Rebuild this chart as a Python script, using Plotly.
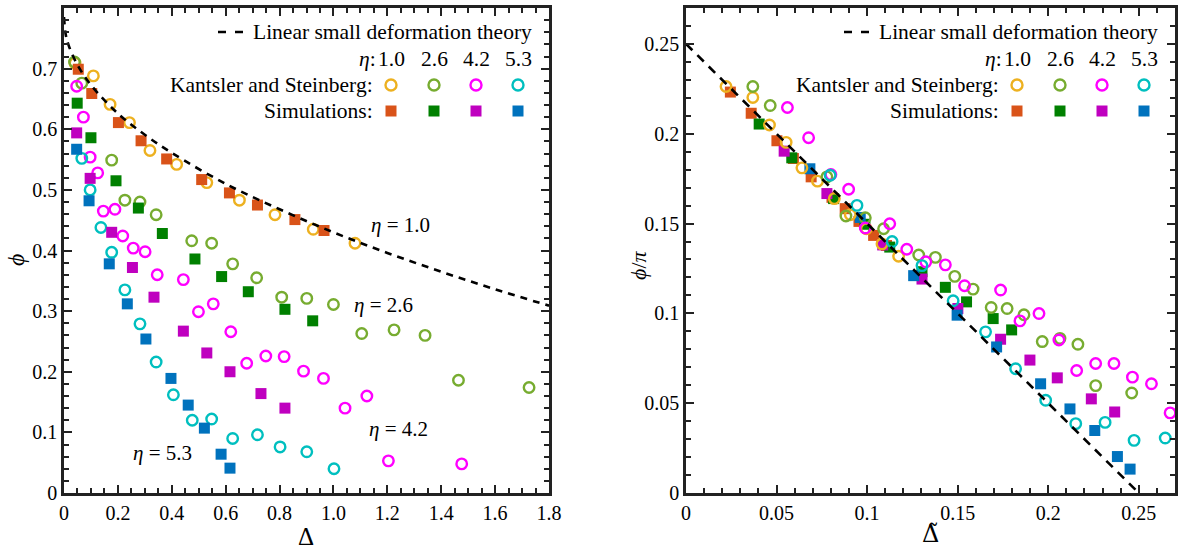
import plotly.graph_objects as go

# ---------------- data: inclination angle phi versus excess area Delta ----------------
eta_labels = ["1.0", "2.6", "4.2", "5.3"]

# Kantsler & Steinberg experiments (left panel: Delta, phi)
ks_delta_10 = [0.041, 0.109, 0.171, 0.243, 0.319, 0.418, 0.530, 0.651, 0.783, 0.925, 1.080]
ks_phi_10 = [0.709, 0.688, 0.641, 0.611, 0.565, 0.542, 0.512, 0.483, 0.459, 0.435, 0.412]
ks_delta_26 = [0.039, 0.066, 0.177, 0.226, 0.282, 0.342, 0.474, 0.548, 0.626, 0.715, 0.808,
               0.901, 1.000, 1.105, 1.225, 1.340, 1.464, 1.726]
ks_phi_26 = [0.711, 0.676, 0.549, 0.483, 0.480, 0.459, 0.416, 0.412, 0.378, 0.355, 0.323,
             0.321, 0.311, 0.263, 0.269, 0.260, 0.186, 0.174]
ks_delta_42 = [0.047, 0.072, 0.097, 0.125, 0.146, 0.189, 0.218, 0.257, 0.301, 0.346, 0.443, 0.499,
               0.554, 0.619, 0.678, 0.749, 0.817, 0.889, 0.963, 1.043, 1.124, 1.204, 1.476]
ks_phi_42 = [0.671, 0.620, 0.554, 0.528, 0.465, 0.468, 0.424, 0.404, 0.398, 0.360, 0.352, 0.299,
             0.312, 0.266, 0.214, 0.226, 0.225, 0.201, 0.189, 0.140, 0.160, 0.053, 0.048]
ks_delta_53 = [0.066, 0.097, 0.137, 0.177, 0.226, 0.282, 0.342, 0.406, 0.476, 0.548, 0.626,
               0.718, 0.802, 0.901, 1.002]
ks_phi_53 = [0.552, 0.500, 0.438, 0.397, 0.335, 0.279, 0.216, 0.162, 0.120, 0.122, 0.090,
             0.096, 0.076, 0.068, 0.040]

# Simulations (left panel: Delta, phi)
sim_delta_10 = [0.053, 0.103, 0.202, 0.286, 0.381, 0.511, 0.614, 0.718, 0.857, 0.965]
sim_phi_10 = [0.699, 0.659, 0.611, 0.581, 0.551, 0.517, 0.495, 0.475, 0.451, 0.433]
sim_delta_26 = [0.049, 0.100, 0.193, 0.276, 0.365, 0.486, 0.585, 0.684, 0.820, 0.923]
sim_phi_26 = [0.643, 0.586, 0.515, 0.470, 0.428, 0.386, 0.357, 0.332, 0.303, 0.284]
sim_delta_42 = [0.047, 0.097, 0.177, 0.254, 0.334, 0.443, 0.530, 0.616, 0.731, 0.820]
sim_phi_42 = [0.594, 0.519, 0.430, 0.372, 0.323, 0.267, 0.231, 0.200, 0.164, 0.140]
sim_delta_53 = [0.047, 0.093, 0.168, 0.235, 0.304, 0.397, 0.461, 0.521, 0.583, 0.616]
sim_phi_53 = [0.567, 0.482, 0.378, 0.312, 0.254, 0.189, 0.145, 0.107, 0.064, 0.041]

# Small deformation theory, eta = 1.0 (left panel)
theory_delta = [0, 0.005, 0.01, 0.02, 0.05, 0.1, 0.2, 0.3, 0.4, 0.6, 0.8, 1.0, 1.2, 1.4, 1.6, 1.8]
theory_phi = [0.785, 0.760, 0.749, 0.735, 0.706, 0.673, 0.626, 0.591, 0.561, 0.510, 0.468,
              0.430, 0.396, 0.365, 0.336, 0.309]

# Rescaled coordinates (right panel: Delta tilde, phi/pi)
ks_dt_10 = [0.0221, 0.0369, 0.0461, 0.0553, 0.0640, 0.0726, 0.0819, 0.0907, 0.0996, 0.1082, 0.1174]
ks_pp_10 = [0.2263, 0.2202, 0.2049, 0.1952, 0.1810, 0.1736, 0.1639, 0.1549, 0.1471, 0.1387, 0.1318]
ks_dt_26 = [0.0369, 0.0465, 0.0778, 0.0883, 0.0990, 0.1091, 0.1285, 0.1377, 0.1484, 0.1585,
            0.1685, 0.1773, 0.1866, 0.1967, 0.2065, 0.2164, 0.2262, 0.2461]
ks_pp_26 = [0.2263, 0.2157, 0.1760, 0.1542, 0.1532, 0.1471, 0.1325, 0.1312, 0.1206, 0.1135,
            0.1033, 0.1027, 0.0992, 0.0843, 0.0861, 0.0828, 0.0598, 0.0557]
ks_dt_42 = [0.0560, 0.0677, 0.0800, 0.0898, 0.0990, 0.1125, 0.1219, 0.1324, 0.1432, 0.1538,
            0.1737, 0.1844, 0.1949, 0.2059, 0.2157, 0.2262, 0.2363, 0.2465, 0.2570, 0.2673]
ks_pp_42 = [0.2146, 0.1978, 0.1773, 0.1691, 0.1475, 0.1499, 0.1357, 0.1287, 0.1270, 0.1154,
            0.1130, 0.0958, 0.0999, 0.0852, 0.0682, 0.0721, 0.0721, 0.0645, 0.0608, 0.0446]
ks_dt_53 = [0.0796, 0.0944, 0.1138, 0.1303, 0.1475, 0.1654, 0.1820, 0.1986, 0.2152, 0.2314,
            0.2474, 0.2646]
ks_pp_53 = [0.1769, 0.1601, 0.1400, 0.1266, 0.1070, 0.0897, 0.0692, 0.0516, 0.0386, 0.0393,
            0.0293, 0.0306]

sim_dt_10 = [0.0245, 0.0360, 0.0502, 0.0593, 0.0691, 0.0806, 0.0879, 0.0955, 0.1036, 0.1107]
sim_pp_10 = [0.2232, 0.2114, 0.1961, 0.1862, 0.1760, 0.1646, 0.1583, 0.1512, 0.1434, 0.1378]
sim_dt_26 = [0.0404, 0.0584, 0.0815, 0.0988, 0.1125, 0.1303, 0.1432, 0.1549, 0.1696, 0.1798]
sim_pp_26 = [0.2054, 0.1866, 0.1639, 0.1496, 0.1369, 0.1232, 0.1145, 0.1064, 0.0971, 0.0908]
sim_dt_42 = [0.0542, 0.0778, 0.1086, 0.1303, 0.1501, 0.1737, 0.1899, 0.2050, 0.2238, 0.2367]
sim_pp_42 = [0.1903, 0.1667, 0.1381, 0.1191, 0.1027, 0.0856, 0.0740, 0.0641, 0.0524, 0.0451]
sim_dt_53 = [0.0684, 0.0962, 0.1257, 0.1497, 0.1715, 0.1958, 0.2120, 0.2257, 0.2382, 0.2452]
sim_pp_53 = [0.1805, 0.1534, 0.1210, 0.0990, 0.0813, 0.0608, 0.0468, 0.0348, 0.0203, 0.0133]

theory_dt = [0.0, 0.25]
theory_pp = [0.25, 0.0]

# tick labels
left_xticks = [0, 0.2, 0.4, 0.6, 0.8, 1.0, 1.2, 1.4, 1.6, 1.8]
left_xtext = ["0", "0.2", "0.4", "0.6", "0.8", "1.0", "1.2", "1.4", "1.6", "1.8"]
left_yticks = [0, 0.1, 0.2, 0.3, 0.4, 0.5, 0.6, 0.7, 0.8]
left_ytext = ["0", "0.1", "0.2", "0.3", "0.4", "0.5", "0.6", "0.7", "0.8"]
right_ticks = [0, 0.05, 0.1, 0.15, 0.2, 0.25]
right_text = ["0", "0.05", "0.1", "0.15", "0.2", "0.25"]

# ---------------- styling ----------------
FONT = "Liberation Serif"
KS_COLORS = ["#EDB120", "#77AC30", "#FF00FF", "#00BFBF"]
SIM_COLORS = ["#D95319", "#008000", "#BF00BF", "#0072BD"]

fig = go.Figure()


def add_circles(xs, ys, color, xa, ya):
    fig.add_trace(go.Scatter(
        x=xs, y=ys, mode="markers", xaxis=xa, yaxis=ya, hoverinfo="skip",
        marker=dict(symbol="circle-open", size=10.5, color=color, line=dict(width=2.4, color=color)),
    ))


def add_squares(xs, ys, color, xa, ya):
    fig.add_trace(go.Scatter(
        x=xs, y=ys, mode="markers", xaxis=xa, yaxis=ya, hoverinfo="skip",
        marker=dict(symbol="square", size=11, color=color, line=dict(width=0)),
    ))


left_ks = [(ks_delta_10, ks_phi_10), (ks_delta_26, ks_phi_26), (ks_delta_42, ks_phi_42), (ks_delta_53, ks_phi_53)]
left_sim = [(sim_delta_10, sim_phi_10), (sim_delta_26, sim_phi_26), (sim_delta_42, sim_phi_42), (sim_delta_53, sim_phi_53)]
right_ks = [(ks_dt_10, ks_pp_10), (ks_dt_26, ks_pp_26), (ks_dt_42, ks_pp_42), (ks_dt_53, ks_pp_53)]
right_sim = [(sim_dt_10, sim_pp_10), (sim_dt_26, sim_pp_26), (sim_dt_42, sim_pp_42), (sim_dt_53, sim_pp_53)]

# left panel: circles, then squares, then theory curve
for (xs, ys), c in zip(left_ks, KS_COLORS):
    add_circles(xs, ys, c, "x", "y")
for (xs, ys), c in zip(left_sim, SIM_COLORS):
    add_squares(xs, ys, c, "x", "y")
fig.add_trace(go.Scatter(x=theory_delta, y=theory_phi, mode="lines", xaxis="x", yaxis="y",
                         hoverinfo="skip", line=dict(color="black", width=2.6, dash="7px,6px", shape="spline")))

# right panel: squares, then circles, then theory line
for (xs, ys), c in zip(right_sim, SIM_COLORS):
    add_squares(xs, ys, c, "x2", "y2")
for (xs, ys), c in zip(right_ks, KS_COLORS):
    add_circles(xs, ys, c, "x2", "y2")
fig.add_trace(go.Scatter(x=theory_dt, y=theory_pp, mode="lines", xaxis="x2", yaxis="y2",
                         hoverinfo="skip", line=dict(color="black", width=2.6, dash="9px,7px")))

W, H = 1178, 552
LEFT_X = [64 / W, 549 / W]
RIGHT_X = [686 / W, 1175 / W]
Y_DOM = [1 - 493 / H, 1 - 8 / H]

tickfont = dict(family=FONT, size=20, color="black")


def axis(domain, rng, tickvals, ticktext, minor_dtick, anchor):
    return dict(
        domain=domain, range=rng, anchor=anchor, tickmode="array", tickvals=tickvals, ticktext=ticktext,
        showgrid=False, zeroline=False, showline=True, linecolor="#222222", linewidth=2.6, mirror="allticks",
        ticks="inside", ticklen=8, tickwidth=2, tickcolor="#222222", tickfont=tickfont,
        minor=dict(tickmode="linear", tick0=0, dtick=minor_dtick, ticks="inside", ticklen=5,
                   tickwidth=1.6, tickcolor="#222222", showgrid=False),
        fixedrange=True, automargin=False,
    )


fig.update_layout(
    width=W, height=H, margin=dict(l=0, r=0, t=0, b=0),
    paper_bgcolor="white", plot_bgcolor="white", showlegend=False,
    xaxis=axis(LEFT_X, [0, 1.8], left_xticks, left_xtext, 0.05, "y"),
    yaxis=axis(Y_DOM, [0, 0.8], left_yticks, left_ytext, 0.02, "x"),
    xaxis2=axis(RIGHT_X, [0, 0.27], right_ticks, right_text, 0.01, "y2"),
    yaxis2=axis(Y_DOM, [0, 0.27], right_ticks, right_text, 0.01, "x2"),
)

annotations = []
shapes = []


def paper_text(text, px, py, size, angle=0, family=FONT):
    return dict(text=text, x=px / W, y=1 - py / H, xref="paper", yref="paper", xanchor="center",
                yanchor="middle", showarrow=False, textangle=angle,
                font=dict(family=family, size=size, color="black"))


# axis titles
annotations += [
    paper_text("Δ", 306, 536, 25),
    paper_text("Δ\u0303", 930, 534, 24, family="DejaVu Serif"),
    paper_text("<i>ϕ</i>", 16, 260, 24, -90),
    paper_text("<i>ϕ</i>/<i>π</i>", 638, 265, 22, -90),
]

# eta labels next to the curves in the left panel
label_font = dict(family=FONT, size=21, color="black")
for txt, lx, ly in [("1.0", 1.247, 0.442), ("2.6", 1.184, 0.310), ("4.2", 1.240, 0.106), ("5.3", 0.364, 0.066)]:
    annotations.append(dict(text=f"<i>η</i> = {txt}", x=lx, y=ly, xref="x", yref="y", showarrow=False,
                            xanchor="center", yanchor="middle", font=label_font))

# in-panel legend block, built for both panels
legend_font = dict(family=FONT, size=21.5, color="black")
marker_offsets = [-158, -115, -73, -31]     # px from the right frame
row_dy = [-24, -51, -77, -103]              # px from the top frame
for xr, yr in [("x domain", "y domain"), ("x2 domain", "y2 domain")]:
    annotations.append(dict(text="Linear small deformation theory", x=1, y=1, xref=xr, yref=yr,
                            xanchor="right", yanchor="middle", xshift=-15, yshift=row_dy[0],
                            showarrow=False, font=legend_font))
    shapes.append(dict(type="line", xref=xr, yref=yr, xsizemode="pixel", ysizemode="pixel",
                       xanchor=1, yanchor=1, x0=-331, x1=-304, y0=row_dy[0], y1=row_dy[0],
                       line=dict(color="black", width=2.6, dash="8px,9px")))
    annotations.append(dict(text="<i>η</i>:", x=1, y=1, xref=xr, yref=yr, xanchor="right", yanchor="middle",
                            xshift=-171, yshift=row_dy[1], showarrow=False, font=legend_font))
    for off, lab in zip(marker_offsets, eta_labels):
        annotations.append(dict(text=lab, x=1, y=1, xref=xr, yref=yr, xanchor="center", yanchor="middle",
                                xshift=off, yshift=row_dy[1], showarrow=False, font=legend_font))
    annotations.append(dict(text="Kantsler and Steinberg:", x=1, y=1, xref=xr, yref=yr, xanchor="right",
                            yanchor="middle", xshift=-174, yshift=row_dy[2], showarrow=False, font=legend_font))
    annotations.append(dict(text="Simulations:", x=1, y=1, xref=xr, yref=yr, xanchor="right",
                            yanchor="middle", xshift=-174, yshift=row_dy[3], showarrow=False, font=legend_font))
    for off, ck, cs in zip(marker_offsets, KS_COLORS, SIM_COLORS):
        shapes.append(dict(type="circle", xref=xr, yref=yr, xsizemode="pixel", ysizemode="pixel",
                           xanchor=1, yanchor=1, x0=off - 5.5, x1=off + 5.5,
                           y0=row_dy[2] - 5.5, y1=row_dy[2] + 5.5, line=dict(color=ck, width=2.4)))
        shapes.append(dict(type="rect", xref=xr, yref=yr, xsizemode="pixel", ysizemode="pixel",
                           xanchor=1, yanchor=1, x0=off - 5.5, x1=off + 5.5,
                           y0=row_dy[3] - 5.5, y1=row_dy[3] + 5.5, fillcolor=cs, line=dict(width=0)))

fig.update_layout(annotations=annotations, shapes=shapes)
fig.write_html("out.html")
